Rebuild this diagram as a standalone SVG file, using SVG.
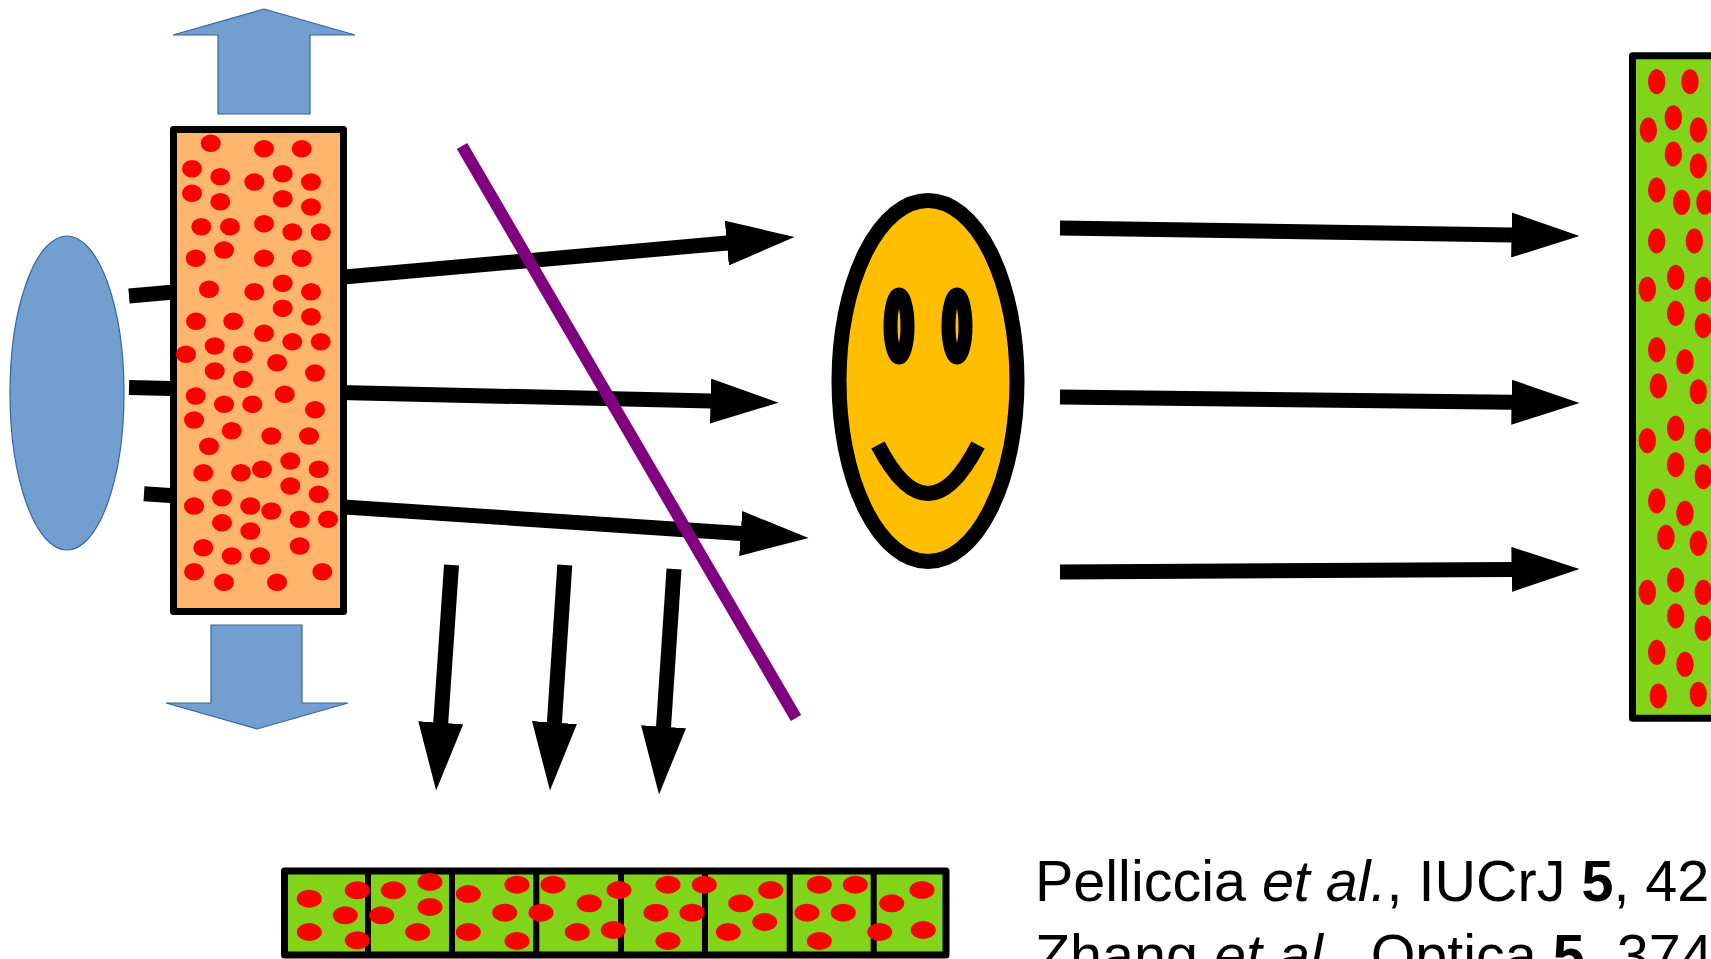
<svg xmlns="http://www.w3.org/2000/svg" xmlns:xlink="http://www.w3.org/1999/xlink" width="1711" height="959" viewBox="0 0 1711 959">
  <style>
    .blue { fill: #729FCF; stroke: #3465A4; stroke-width: 1.2; }
    .box { stroke: #000; stroke-width: 7; stroke-linejoin: round; }
    .ray { fill: none; stroke: #000; stroke-width: 15; stroke-linecap: butt; marker-end: url(#head); }
    .red { fill: #FF0000; }
    .cite { font-family: "Liberation Sans", Arial, sans-serif; font-size: 57.5px; fill: #000; }
  </style>
  <defs>
    <marker id="head" markerUnits="userSpaceOnUse" viewBox="0 0 68 45" markerWidth="68" markerHeight="45" refX="0.5" refY="22.5" orient="auto">
      <path d="M0,0 L68,22.5 L0,45 Z" fill="#000"/>
    </marker>
    <ellipse id="dotO" class="red" rx="10" ry="8.8"/>
    <ellipse id="dotG" class="red" rx="8.7" ry="12.5"/>
    <ellipse id="dotS" class="red" rx="12.5" ry="9"/>
  </defs>

  <rect width="1711" height="959" fill="#fff"/>

  <!-- beams -->
  <g id="connectors">
    <path class="ray" d="M129,296 L727.3,243"/>
    <path class="ray" d="M129,387.5 L711,401.1"/>
    <path class="ray" d="M144,493.7 L741.2,533.5"/>
    <path class="ray" d="M1060,228 L1512,235"/>
    <path class="ray" d="M1060,397 L1512,402.2"/>
    <path class="ray" d="M1060,572 L1512,569.4"/>
    <path class="ray" d="M451.5,565 L440.7,723.2"/>
    <path class="ray" d="M564.8,565 L554.4,723.1"/>
    <path class="ray" d="M674,569 L663.5,727.2"/>
  </g>

  <!-- source -->
  <g id="source">
    <ellipse class="blue" cx="67" cy="393" rx="57" ry="157"/>
  </g>

  <!-- motion arrows -->
  <g id="move-up">
    <path class="blue" d="M264,9 L355,35 L310,35 L310,114 L218,114 L218,35 L173,35 Z"/>
  </g>
  <g id="move-down">
    <path class="blue" d="M211,625 L302,625 L302,703 L348,703 L257,729 L166,703 L211,703 Z"/>
  </g>

  <!-- moving diffuser -->
  <g id="diffuser">
    <rect class="box" x="173.5" y="129.5" width="170" height="482" fill="#FFB66C"/>
    <use href="#dotO" x="210.7" y="143.3"/><use href="#dotO" x="264" y="148.7"/><use href="#dotO" x="301.7" y="148.7"/>
    <use href="#dotO" x="192" y="168.7"/><use href="#dotO" x="220.3" y="176.7"/><use href="#dotO" x="254.3" y="182"/>
    <use href="#dotO" x="282.7" y="173.7"/><use href="#dotO" x="311" y="182"/><use href="#dotO" x="192" y="193.3"/>
    <use href="#dotO" x="220.3" y="201.7"/><use href="#dotO" x="282.7" y="198.7"/><use href="#dotO" x="311" y="207"/>
    <use href="#dotO" x="201.3" y="226.7"/><use href="#dotO" x="230" y="226.7"/><use href="#dotO" x="264" y="223.7"/>
    <use href="#dotO" x="292.3" y="232"/><use href="#dotO" x="320.7" y="232"/><use href="#dotO" x="195.7" y="258.3"/>
    <use href="#dotO" x="224" y="250"/><use href="#dotO" x="264" y="258.3"/><use href="#dotO" x="301.7" y="258.3"/>
    <use href="#dotO" x="209" y="289.3"/><use href="#dotO" x="254.3" y="291.7"/><use href="#dotO" x="282.7" y="283.3"/>
    <use href="#dotO" x="311" y="291.7"/><use href="#dotO" x="282.7" y="308.3"/><use href="#dotO" x="311" y="316.7"/>
    <use href="#dotO" x="196" y="321.3"/><use href="#dotO" x="233.3" y="321.3"/><use href="#dotO" x="264" y="333.3"/>
    <use href="#dotO" x="292.3" y="341.7"/><use href="#dotO" x="320.7" y="341.7"/><use href="#dotO" x="214.7" y="346"/>
    <use href="#dotO" x="186" y="354.3"/><use href="#dotO" x="243" y="354.3"/><use href="#dotO" x="277" y="362.7"/>
    <use href="#dotO" x="214.7" y="371"/><use href="#dotO" x="315" y="373"/><use href="#dotO" x="243" y="379.3"/>
    <use href="#dotO" x="195.7" y="396"/><use href="#dotO" x="284.7" y="394.3"/><use href="#dotO" x="224" y="404.3"/>
    <use href="#dotO" x="252.3" y="404.3"/><use href="#dotO" x="315" y="409.7"/><use href="#dotO" x="194" y="420"/>
    <use href="#dotO" x="231.7" y="430.7"/><use href="#dotO" x="271.3" y="436"/><use href="#dotO" x="309" y="436"/>
    <use href="#dotO" x="209" y="446.3"/><use href="#dotO" x="203.3" y="472.7"/><use href="#dotO" x="241" y="472.7"/>
    <use href="#dotO" x="262" y="469.3"/><use href="#dotO" x="290.3" y="461"/><use href="#dotO" x="318.7" y="469.3"/>
    <use href="#dotO" x="222" y="497.7"/><use href="#dotO" x="194" y="506"/><use href="#dotO" x="250.3" y="506"/>
    <use href="#dotO" x="290.3" y="486"/><use href="#dotO" x="318.7" y="494.3"/><use href="#dotO" x="271.3" y="511"/>
    <use href="#dotO" x="222" y="522.7"/><use href="#dotO" x="299.7" y="519.3"/><use href="#dotO" x="328" y="519.3"/>
    <use href="#dotO" x="250.3" y="531"/><use href="#dotO" x="203.3" y="547.7"/><use href="#dotO" x="231.7" y="556"/>
    <use href="#dotO" x="260" y="556"/><use href="#dotO" x="299.7" y="546"/><use href="#dotO" x="194" y="571.7"/>
    <use href="#dotO" x="224" y="582.3"/><use href="#dotO" x="277" y="582.3"/><use href="#dotO" x="322.3" y="571.7"/>
  </g>

  <!-- beam splitter -->
  <g id="splitter">
    <line x1="462" y1="146" x2="796" y2="718" stroke="#800080" stroke-width="12"/>
  </g>

  <!-- object -->
  <g id="object">
    <ellipse cx="928" cy="381" rx="89" ry="180.5" fill="#FFBF00" stroke="#000" stroke-width="15"/>
    <ellipse cx="899" cy="326" rx="8.5" ry="31.5" fill="#FFBF00" stroke="#000" stroke-width="14"/>
    <ellipse cx="957" cy="326" rx="8.5" ry="31.5" fill="#FFBF00" stroke="#000" stroke-width="14"/>
    <path d="M878,445 Q928,542 978,445" fill="none" stroke="#000" stroke-width="15"/>
  </g>

  <!-- detector -->
  <g id="detector">
    <rect class="box" x="1632.5" y="55.8" width="200" height="662.5" fill="#81D41A"/>
    <use href="#dotG" x="1656.7" y="81.7"/><use href="#dotG" x="1690" y="81.7"/><use href="#dotG" x="1648.3" y="130"/>
    <use href="#dotG" x="1673.3" y="117.7"/><use href="#dotG" x="1698.3" y="130"/><use href="#dotG" x="1673.3" y="154"/>
    <use href="#dotG" x="1698.3" y="166"/><use href="#dotG" x="1656.7" y="190"/><use href="#dotG" x="1681.7" y="202.3"/>
    <use href="#dotG" x="1705" y="202.3"/><use href="#dotG" x="1656.7" y="241"/><use href="#dotG" x="1694.3" y="241"/>
    <use href="#dotG" x="1647.3" y="289.3"/><use href="#dotG" x="1675.7" y="277.3"/><use href="#dotG" x="1703.3" y="289.3"/>
    <use href="#dotG" x="1675.7" y="313.3"/><use href="#dotG" x="1703.3" y="325.7"/><use href="#dotG" x="1656.7" y="349.7"/>
    <use href="#dotG" x="1685" y="361.7"/><use href="#dotG" x="1658.3" y="386"/><use href="#dotG" x="1698.3" y="391.7"/>
    <use href="#dotG" x="1647.3" y="440.7"/><use href="#dotG" x="1675.7" y="428.3"/><use href="#dotG" x="1703.3" y="440.7"/>
    <use href="#dotG" x="1675.7" y="464.7"/><use href="#dotG" x="1703.3" y="476.7"/><use href="#dotG" x="1656.7" y="501"/>
    <use href="#dotG" x="1685" y="513.3"/><use href="#dotG" x="1666" y="537.3"/><use href="#dotG" x="1698.3" y="543.3"/>
    <use href="#dotG" x="1647.3" y="592.3"/><use href="#dotG" x="1675.7" y="580"/><use href="#dotG" x="1703.3" y="592.3"/>
    <use href="#dotG" x="1675.7" y="616"/><use href="#dotG" x="1703.3" y="628.3"/><use href="#dotG" x="1656.7" y="652.3"/>
    <use href="#dotG" x="1685" y="664.3"/><use href="#dotG" x="1658.3" y="696"/><use href="#dotG" x="1698.3" y="694.3"/>
  </g>

  <!-- recorded speckle frames -->
  <g id="frames">
    <rect class="box" x="284.5" y="871" width="661.5" height="84" fill="#81D41A"/>
    <g stroke="#000" stroke-width="6">
      <line x1="368" y1="871" x2="368" y2="955"/>
      <line x1="452" y1="871" x2="452" y2="955"/>
      <line x1="536.3" y1="871" x2="536.3" y2="955"/>
      <line x1="621" y1="871" x2="621" y2="955"/>
      <line x1="705" y1="871" x2="705" y2="955"/>
      <line x1="789.7" y1="871" x2="789.7" y2="955"/>
      <line x1="873.7" y1="871" x2="873.7" y2="955"/>
    </g>
    <use href="#dotS" x="309.3" y="898.7"/><use href="#dotS" x="309.3" y="932"/><use href="#dotS" x="357.3" y="890.3"/>
    <use href="#dotS" x="345.3" y="915.3"/><use href="#dotS" x="357.3" y="940.3"/><use href="#dotS" x="393.3" y="890.3"/>
    <use href="#dotS" x="430" y="882"/><use href="#dotS" x="381.7" y="915.3"/><use href="#dotS" x="430" y="907"/>
    <use href="#dotS" x="417.7" y="932"/><use href="#dotS" x="468.3" y="894"/><use href="#dotS" x="517" y="884.7"/>
    <use href="#dotS" x="504.7" y="912.7"/><use href="#dotS" x="468.3" y="932"/><use href="#dotS" x="517" y="941"/>
    <use href="#dotS" x="553" y="884.7"/><use href="#dotS" x="541" y="912.7"/><use href="#dotS" x="589.3" y="903.3"/>
    <use href="#dotS" x="577.3" y="932"/><use href="#dotS" x="619" y="890"/><use href="#dotS" x="613.3" y="930"/>
    <use href="#dotS" x="668" y="884.7"/><use href="#dotS" x="704.3" y="884.7"/><use href="#dotS" x="656" y="912.7"/>
    <use href="#dotS" x="692" y="912.7"/><use href="#dotS" x="668" y="941"/><use href="#dotS" x="770.7" y="890"/>
    <use href="#dotS" x="740.7" y="903.3"/><use href="#dotS" x="764.7" y="922"/><use href="#dotS" x="728.3" y="932"/>
    <use href="#dotS" x="819.3" y="884.7"/><use href="#dotS" x="855.3" y="884.7"/><use href="#dotS" x="807" y="912.7"/>
    <use href="#dotS" x="843.3" y="912.7"/><use href="#dotS" x="819.3" y="941"/><use href="#dotS" x="922" y="890"/>
    <use href="#dotS" x="891.7" y="903.3"/><use href="#dotS" x="879.7" y="932"/><use href="#dotS" x="923.3" y="930"/>
  </g>

  <!-- references -->
  <g id="citations" class="cite">
    <text x="1035" y="901">Pelliccia <tspan font-style="italic">et al.</tspan>, IUCrJ <tspan font-weight="bold">5</tspan>, 428</text>
    <text x="1035" y="975">Zhang <tspan font-style="italic">et al.</tspan>, Optica <tspan font-weight="bold">5</tspan>, 374</text>
  </g>
</svg>
